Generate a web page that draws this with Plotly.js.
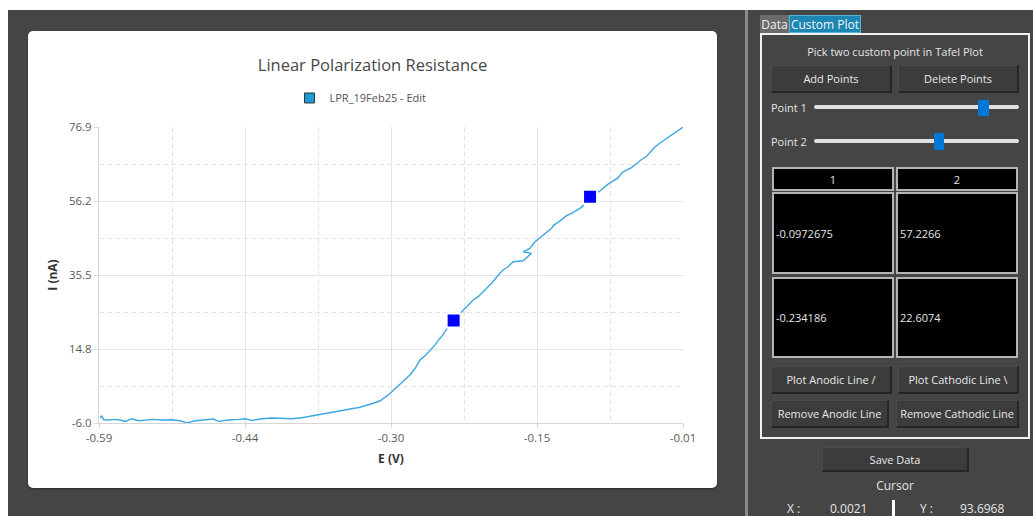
<!DOCTYPE html>
<html>
<head>
<meta charset="utf-8">
<script src="https://cdn.plot.ly/plotly-3.0.1.min.js"></script>
<style>
  html, body { margin:0; padding:0; background:#ffffff; }
  body { width:1033px; height:516px; position:relative; overflow:hidden; font-family:"Open Sans", sans-serif; }
  #bg { position:absolute; left:8px; top:10px; right:0; bottom:0; background:#454545; }
  #card { position:absolute; left:28px; top:31px; width:689px; height:457px; background:#fff; border-radius:5px; box-shadow:0 1px 2px rgba(0,0,0,0.35); overflow:hidden; }
  #chart { position:absolute; left:0; top:0; width:689px; height:457px; }
  .abs { position:absolute; box-sizing:border-box; }
  .txt { position:absolute; color:#e6e6e6; font-size:11px; line-height:16px; white-space:nowrap; }
  .btn { position:absolute; box-sizing:border-box; background:#3c3c3c; color:#e8e8e8; font-size:11px; display:flex; align-items:center; justify-content:center; border-top:1px solid #4a4a4a; border-left:1px solid #4a4a4a; border-right:2px solid #262626; border-bottom:2px solid #262626; white-space:nowrap; }
  .cell { position:absolute; box-sizing:border-box; background:#000; border:2px solid #b4b4b4; color:#e6e6e6; font-size:11px; display:flex; align-items:center; white-space:nowrap; }
</style>
</head>
<body>
<div id="bg"></div>
<div id="card"><div id="chart"></div></div>
<div id="panel"></div>
<script>
// ---------------- chart data ----------------
const chartTitle = "Linear Polarization Resistance";
const seriesName = "LPR_19Feb25 - Edit";
const xTitle = "E (V)";
const yTitle = "I (nA)";

const E_V = [
  -0.5887, -0.5872, -0.5854, -0.5805, -0.5738, -0.5689, -0.5639, -0.5573, -0.5507, -0.5441,
  -0.5358, -0.5275, -0.5176, -0.5093, -0.5027, -0.4945, -0.4845, -0.4763, -0.4714, -0.4614,
  -0.4515, -0.4449, -0.4382, -0.4283, -0.4184, -0.4085, -0.3985, -0.3886, -0.3787, -0.3688,
  -0.3556, -0.3424, -0.3308, -0.3207, -0.3107, -0.3008, -0.2910, -0.2810, -0.2760, -0.2711,
  -0.2661, -0.2612, -0.2562, -0.2531, -0.2497, -0.2464, -0.2442, -0.2378, -0.2299, -0.2250,
  -0.2184, -0.2134, -0.2068, -0.2001, -0.1919, -0.1886, -0.1837, -0.1787, -0.1688, -0.1605,
  -0.1688, -0.1621, -0.1572, -0.1502, -0.1453, -0.1403, -0.1383, -0.1324, -0.1264, -0.1185,
  -0.1105, -0.1023, -0.0927, -0.0858, -0.0798, -0.0749, -0.0699, -0.0659, -0.0620, -0.0580,
  -0.0521, -0.0461, -0.0422, -0.0382, -0.0332, -0.0273, -0.0213, -0.0154, -0.0100
];
const I_nA = [
  -4.60, -3.96, -5.08, -5.16, -4.99, -5.16, -5.55, -4.80, -5.36, -5.16,
  -4.99, -5.16, -5.08, -5.36, -5.97, -5.36, -4.99, -4.88, -5.55, -5.16,
  -4.99, -4.80, -5.27, -4.80, -4.60, -4.71, -4.80, -4.52, -4.04, -3.40,
  -2.76, -2.28, -1.58, -0.75, 0.23, 2.33, 4.84, 7.50, 9.32, 11.69,
  12.81, 14.21, 15.88, 17.14, 18.21, 19.60, 20.55, 22.79, 25.19, 26.59,
  28.46, 29.39, 31.26, 33.13, 35.93, 36.85, 37.77, 39.17, 39.45, 41.52,
  41.96, 42.91, 44.67, 46.35, 47.47, 48.58, 49.42, 50.54, 51.94, 53.06,
  54.46, 57.45, 58.93, 60.61, 61.73, 62.57, 64.25, 64.81, 65.37, 66.21,
  67.60, 68.72, 70.12, 71.24, 72.35, 73.47, 74.59, 75.70, 76.87
];

// picked custom points (as drawn)
const pickE = [-0.2378, -0.1023];
const pickI = [22.70, 57.35];

const xTickVals = [-0.59, -0.445, -0.30, -0.155, -0.01];
const xTickText = ["-0.59", "-0.44", "-0.30", "-0.15", "-0.01"];
const xMinorVals = [-0.5175, -0.3725, -0.2275, -0.0825];
const yTickVals = [-6.0, 14.725, 35.45, 56.175, 76.9];
const yTickText = ["-6.0", "14.8", "35.5", "56.2", "76.9"];
const yMinorVals = [4.3625, 25.0875, 45.8125, 66.5375];

// ---------------- side panel data ----------------
const tabs = ["Data", "Custom Plot"];
const panelHeading = "Pick two custom point in Tafel Plot";
const topButtons = ["Add Points", "Delete Points"];
const sliderLabels = ["Point 1", "Point 2"];
const tableHeader = ["1", "2"];
const tableRows = [["-0.0972675", "57.2266"], ["-0.234186", "22.6074"]];
const lineButtons = ["Plot Anodic Line /", "Plot Cathodic Line \\"];
const removeButtons = ["Remove Anodic Line", "Remove Cathodic Line"];
const saveLabel = "Save Data";
const cursorLabel = "Cursor";
const cursorValues = ["0.0021", "93.6968"];

// ---------------- plot ----------------
const gridC = "#e4e4e4";
const traces = [
  { x: E_V, y: I_nA, type: "scatter", mode: "lines", showlegend: false,
    line: { color: "#3ea7e1", width: 1.4 }, hoverinfo: "skip" },
  { x: pickE, y: pickI, type: "scatter", mode: "markers", showlegend: false,
    marker: { symbol: "square", size: 14, color: "#0000ff", line: { color: "#ffffff", width: 2 } } },
  { x: [null], y: [null], type: "scatter", mode: "markers", name: seriesName, showlegend: true,
    marker: { symbol: "square", size: 10, color: "#1e9ad6", line: { color: "#333333", width: 1 } } }
];

const axisCommon = {
  showline: true, linecolor: "#d6d6d6", linewidth: 1,
  ticks: "outside", ticklen: 4, tickcolor: "#d6d6d6", tickwidth: 1,
  showgrid: true, gridcolor: gridC, gridwidth: 1,
  zeroline: false, fixedrange: true,
  tickfont: { family: "Open Sans", size: 11.5, color: "#5a5a5a" },
  tickmode: "array"
};

const layout = {
  width: 689, height: 457,
  paper_bgcolor: "rgba(0,0,0,0)", plot_bgcolor: "#ffffff",
  margin: { l: 71, r: 34, t: 96, b: 65, autoexpand: false },
  font: { family: "Open Sans", color: "#555555" },
  title: { text: chartTitle, x: 0.5, xref: "container", xanchor: "center",
           y: 0.9256, yref: "container", yanchor: "middle",
           font: { family: "Open Sans", size: 16.5, color: "#484848" } },
  showlegend: true,
  legend: { orientation: "h", x: 0.3262, xanchor: "left", y: 1.098, yanchor: "middle",
            font: { family: "Open Sans", size: 11, color: "#555555" }, bgcolor: "rgba(0,0,0,0)" },
  xaxis: Object.assign({}, axisCommon, {
    range: [-0.59, -0.01], tickvals: xTickVals, ticktext: xTickText,
    minor: { tickvals: xMinorVals, showgrid: true, gridcolor: gridC, griddash: "5px,3px", ticks: "" },
    title: { text: xTitle, standoff: 10, font: { family: "Open Sans", size: 12, color: "#333333", weight: "bold" } }
  }),
  yaxis: Object.assign({}, axisCommon, {
    range: [-6.0, 76.9], tickvals: yTickVals, ticktext: yTickText,
    minor: { tickvals: yMinorVals, showgrid: true, gridcolor: gridC, griddash: "5px,3px", ticks: "" },
    title: { text: yTitle, standoff: 8, font: { family: "Open Sans", size: 12, color: "#333333", weight: "bold" } }
  })
};

Plotly.newPlot("chart", traces, layout, { displayModeBar: false, staticPlot: true });

// ---------------- build side panel ----------------
const panel = document.getElementById("panel");
function el(cls, style, text) {
  const d = document.createElement("div");
  d.className = cls;
  Object.assign(d.style, style);
  if (text !== undefined) d.textContent = text;
  panel.appendChild(d);
  return d;
}
// separator
el("abs", { left: "745px", top: "10px", width: "3px", height: "506px", background: "#8a8a8a" });
// tabs
el("abs", { left: "760px", top: "15px", width: "29px", height: "18px", background: "#6b6b6b", color: "#f0f0f0",
            fontSize: "12px", lineHeight: "19px", textAlign: "center" }, tabs[0]);
el("abs", { left: "789px", top: "15px", width: "72px", height: "18px", background: "#1a86b1", color: "#f4f4f4",
            border: "1px solid #56b3da", fontSize: "12px", lineHeight: "17px", textAlign: "center" }, tabs[1]);
// group box
el("abs", { left: "760px", top: "33px", width: "270px", height: "406px", border: "2px solid #f2f2f2" });
el("txt", { left: "762px", top: "44px", width: "266px", textAlign: "center" }, panelHeading);
el("btn", { left: "771px", top: "65px", width: "121px", height: "28px" }, topButtons[0]);
el("btn", { left: "898px", top: "65px", width: "121px", height: "28px" }, topButtons[1]);
// sliders
el("txt", { left: "771px", top: "100px" }, sliderLabels[0]);
el("abs", { left: "814px", top: "105px", width: "205px", height: "4px", background: "#e1e1e1", borderRadius: "2px" });
el("abs", { left: "978px", top: "100px", width: "11px", height: "16px", background: "#0078d7" });
el("txt", { left: "771px", top: "134px" }, sliderLabels[1]);
el("abs", { left: "814px", top: "139px", width: "205px", height: "4px", background: "#e1e1e1", borderRadius: "2px" });
el("abs", { left: "934px", top: "133px", width: "10px", height: "17px", background: "#0078d7" });
// table
const colL = [772, 896];
tableHeader.forEach((h, i) => {
  el("cell", { left: colL[i] + "px", top: "167px", width: "122px", height: "24px", justifyContent: "center" }, h);
});
const rowTop = [192, 277];
const rowH = [82, 81];
tableRows.forEach((row, r) => {
  row.forEach((v, c) => {
    el("cell", { left: colL[c] + "px", top: rowTop[r] + "px", width: "122px", height: rowH[r] + "px", paddingLeft: "2px" }, v);
  });
});
// line buttons
el("btn", { left: "771px", top: "366px", width: "121px", height: "28px" }, lineButtons[0]);
el("btn", { left: "898px", top: "366px", width: "121px", height: "28px" }, lineButtons[1]);
el("btn", { left: "771px", top: "400px", width: "118px", height: "28px" }, removeButtons[0]);
el("btn", { left: "896px", top: "400px", width: "123px", height: "28px" }, removeButtons[1]);
// save + cursor
el("btn", { left: "822px", top: "447px", width: "147px", height: "25px" }, saveLabel);
el("txt", { left: "795px", top: "478px", width: "200px", textAlign: "center", fontSize: "12px" }, cursorLabel);
el("txt", { left: "787px", top: "501px", fontSize: "12px" }, "X :");
el("txt", { left: "830px", top: "501px", fontSize: "12px" }, cursorValues[0]);
el("abs", { left: "892px", top: "500px", width: "3px", height: "16px", background: "#ffffff" });
el("txt", { left: "920px", top: "501px", fontSize: "12px" }, "Y :");
el("txt", { left: "960px", top: "501px", fontSize: "12px" }, cursorValues[1]);
</script>
</body>
</html>
